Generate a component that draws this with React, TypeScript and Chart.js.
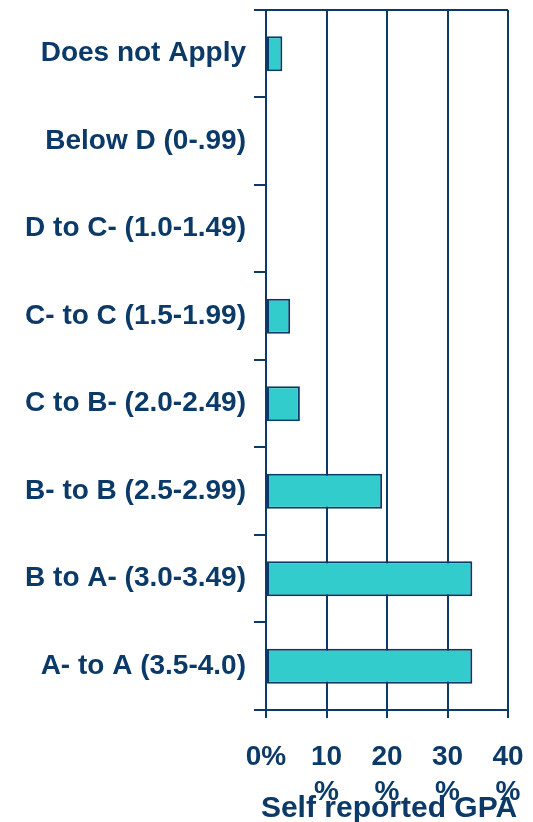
import React, { useEffect, useRef } from "react";
import { Chart, registerables } from "chart.js";

Chart.register(...registerables);

const categories = [
  "Does not Apply",
  "Below D (0-.99)",
  "D to C- (1.0-1.49)",
  "C- to C (1.5-1.99)",
  "C to B- (2.0-2.49)",
  "B- to B (2.5-2.99)",
  "B to A- (3.0-3.49)",
  "A- to A (3.5-4.0)",
];
const percentValues = [2.7, 0, 0, 4.0, 5.6, 19.2, 34.1, 34.1];
const xTickLabels = [["0%"], ["10", "%"], ["20", "%"], ["30", "%"], ["40", "%"]];
const xTitle = "Self reported GPA";

const NAVY = "#0B3A68";
const TEAL = "#33CCCC";
const FAMILY = "'Liberation Sans', Arial, sans-serif";

const bottomTitlePlugin = {
  id: "bottomTitle",
  afterDraw(chart: any) {
    const { ctx, chartArea, height } = chart;
    ctx.save();
    ctx.fillStyle = NAVY;
    ctx.font = `bold 30px ${FAMILY}`;
    ctx.textAlign = "center";
    ctx.textBaseline = "alphabetic";
    ctx.fillText(xTitle, (chartArea.left + chartArea.right) / 2 + 2, height - 5);
    ctx.restore();
  },
};

export default function App() {
  const ref = useRef<HTMLCanvasElement | null>(null);
  useEffect(() => {
    if (!ref.current) return;
    const chart = new Chart(ref.current, {
      type: "bar",
      data: {
        labels: categories,
        datasets: [
          {
            data: percentValues,
            backgroundColor: TEAL,
            borderColor: NAVY,
            borderWidth: 2,
            borderSkipped: false,
            barPercentage: 0.4,
            categoryPercentage: 1.0,
          },
        ],
      },
      plugins: [bottomTitlePlugin],
      options: {
        indexAxis: "y",
        animation: false,
        responsive: true,
        maintainAspectRatio: false,
        layout: { padding: { top: 0, right: 0, bottom: 0, left: 0 } },
        plugins: { legend: { display: false }, tooltip: { enabled: false } },
        scales: {
          x: {
            min: 0,
            max: 40,
            afterFit: (s: any) => {
              s.height = 112;
              s.paddingRight = 25;
              s.paddingLeft = 0;
            },
            ticks: {
              stepSize: 10,
              color: NAVY,
              font: { family: FAMILY, weight: "bold", size: 28, lineHeight: 1.25 },
              padding: 22,
              maxRotation: 0,
              autoSkip: false,
              callback: (_v: any, i: number) => xTickLabels[i],
            },
            grid: { color: NAVY, lineWidth: 2, tickLength: 8, tickColor: NAVY },
            border: { display: true, color: NAVY, width: 2 },
          },
          y: {
            afterFit: (s: any) => {
              s.width = 266;
            },
            ticks: {
              color: NAVY,
              font: { family: FAMILY, weight: "bold", size: 28, lineHeight: 0.14 },
              padding: 8,
              autoSkip: false,
            },
            grid: {
              offset: true,
              color: (c: any) => (c.index === 0 ? NAVY : "rgba(0,0,0,0)"),
              tickColor: NAVY,
              lineWidth: 2,
              tickLength: 12,
              drawOnChartArea: true,
            },
            border: { display: true, color: NAVY, width: 2 },
          },
        },
      },
    });
    return () => chart.destroy();
  }, []);
  return (
    <div style={{ position: "fixed", left: 0, top: 0, width: 533, height: 822, background: "#fff" }}>
      <canvas ref={ref} />
    </div>
  );
}
